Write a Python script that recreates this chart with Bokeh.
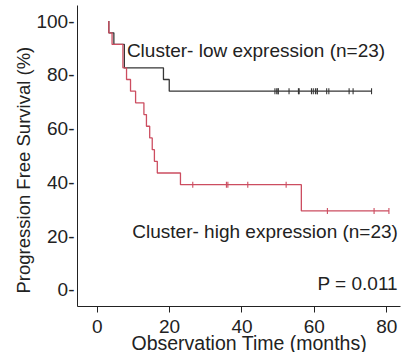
import numpy as np
from bokeh.plotting import figure
from bokeh.models import Label, FixedTicker, Range1d, Title
from bokeh.embed import file_html
from bokeh.resources import INLINE

# ---- data ----
low_event_times = [3.2, 4.6, 7.5, 18.3, 19.9]
low_event_surv = [95.65, 91.30, 82.61, 78.26, 73.91]
low_censor_times = [49.1, 49.6, 50.0, 50.0, 53.0, 55.6, 55.8, 59.2, 59.7, 60.3, 60.8,
                    60.8, 63.4, 64.0, 69.6, 70.7, 75.8]

high_event_times = [3.2, 4.1, 7.1, 8.1, 9.2, 10.6, 12.9, 13.6, 14.5, 15.2, 15.8, 16.6, 23.0, 56.4]
high_event_surv = [95.65, 91.30, 82.61, 78.26, 73.91, 69.57, 65.22, 60.87, 56.52, 52.17,
                   47.83, 43.48, 39.13, 29.35]
high_censor_times = [26.4, 35.7, 36.1, 41.6, 52.2, 63.6, 76.5, 80.6]

x_ticks = [0, 20, 40, 60, 80]
y_ticks = [0, 20, 40, 60, 80, 100]
y_tick_labels = ["0-", "20-", "40-", "60-", "80-", "100-"]

low_label = "Cluster- low expression (n=23)"
high_label = "Cluster- high expression (n=23)"
p_label = "P = 0.011"
x_title = "Observation Time (months)"
y_title = "Progression Free Survival (%)"

LOW_COLOR = "#363636"
HIGH_COLOR = "#cc4d60"
TEXT_COLOR = "#222222"
FONT = "Liberation Sans"


def km_path(times, surv, end_time):
    xs, ys = [times[0]], [100.0]
    prev = 100.0
    for t, s in zip(times, surv):
        xs += [t, t]
        ys += [prev, s]
        prev = s
    xs.append(end_time)
    ys.append(prev)
    return xs, ys


def level_at(times, surv, t):
    lvl = 100.0
    for tt, s in zip(times, surv):
        if tt <= t:
            lvl = s
    return lvl


p = figure(width=408, height=352, output_backend="svg", toolbar_location=None,
           x_range=Range1d(-5.45, 83.8), y_range=Range1d(-6.2, 105.8),
           min_border_left=77, min_border_right=8, min_border_top=5, min_border_bottom=46)
p.background_fill_color = "white"
p.border_fill_color = "white"
p.outline_line_color = None
p.grid.visible = False

for times, surv, cens, col in [
    (low_event_times, low_event_surv, low_censor_times, LOW_COLOR),
    (high_event_times, high_event_surv, high_censor_times, HIGH_COLOR),
]:
    xs, ys = km_path(times, surv, max(cens))
    p.line(xs, ys, line_color=col, line_width=1.3)
    cy = [level_at(times, surv, t) for t in cens]
    p.scatter(cens, cy, marker="dash", angle=np.pi / 2, size=6, line_color=col, line_width=1.1)

# axes
xa = p.xaxis[0]
xa.ticker = FixedTicker(ticks=x_ticks)
xa.major_tick_out = 6
xa.major_tick_in = 0
xa.minor_tick_line_color = None
xa.major_label_standoff = 7
xa.major_label_text_font = FONT
xa.major_label_text_font_size = "19px"
xa.major_label_text_color = TEXT_COLOR
xa.axis_line_color = TEXT_COLOR
xa.major_tick_line_color = TEXT_COLOR

ya = p.yaxis[0]
ya.ticker = FixedTicker(ticks=y_ticks)
ya.major_label_overrides = {t: l for t, l in zip(y_ticks, y_tick_labels)}
ya.major_tick_line_color = None
ya.minor_tick_line_color = None
ya.major_tick_out = 0
ya.major_tick_in = 0
ya.major_label_standoff = 3
ya.major_label_text_font = FONT
ya.major_label_text_font_size = "19px"
ya.major_label_text_color = TEXT_COLOR
ya.axis_line_color = TEXT_COLOR

# axis titles as side titles
p.add_layout(Title(text=x_title, align="left", offset=54, standoff=-12,
                   text_font=FONT, text_font_size="19.5px", text_font_style="normal",
                   text_color=TEXT_COLOR), "below")
p.add_layout(Title(text=y_title, align="left", offset=13, standoff=0,
                   text_font=FONT, text_font_size="18.5px", text_font_style="normal",
                   text_color=TEXT_COLOR), "left")

# in-plot annotations
common = dict(text_font=FONT, text_font_size="19px", text_color=TEXT_COLOR)
p.add_layout(Label(x=8.2, y=88.9, text=low_label, text_align="left", text_baseline="middle", **common))
p.add_layout(Label(x=9.7, y=21.8, text=high_label, text_align="left", text_baseline="middle", **common))
p.add_layout(Label(x=83.1, y=2.2, text=p_label, text_align="right", text_baseline="middle", **common))

open("out.html", "w").write(file_html(p, INLINE))
